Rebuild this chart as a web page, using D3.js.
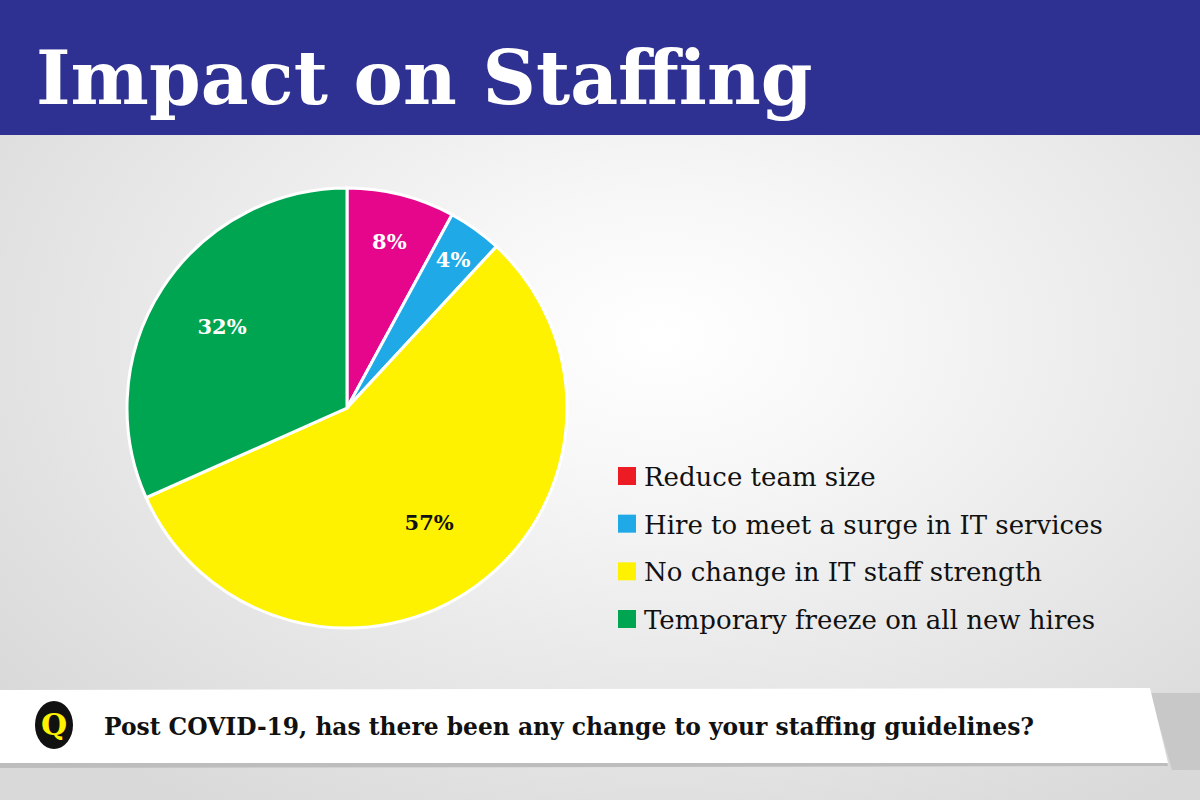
<!DOCTYPE html>
<html><head><meta charset="utf-8">
<script src="https://cdn.jsdelivr.net/npm/d3@7"></script>
<style>body{margin:0;overflow:hidden}</style>
</head><body>
<script>
var categories = ["Reduce team size", "Hire to meet a surge in IT services", "No change in IT staff strength", "Temporary freeze on all new hires"];
var values = [8, 4, 57, 32];
var sliceColors = ["#e5068c", "#1fa9e6", "#fff200", "#00a551"];
var legendColors = ["#ed1c24", "#1fa9e6", "#fff200", "#00a551"];
var labelColors = ["#fff", "#fff", "#111", "#fff"];
var labelRadius = [172, 182, 141, 149];

var W = 1200, H = 800, serif = "'DejaVu Serif', 'Liberation Serif', serif";
var svg = d3.select("body").append("svg").attr("width", W).attr("height", H);
var defs = svg.append("defs");
var g1 = defs.append("radialGradient").attr("id", "bg").attr("cx", "0.55").attr("cy", "0.42").attr("r", "0.7");
g1.append("stop").attr("offset", "0").attr("stop-color", "#ffffff");
g1.append("stop").attr("offset", "0.25").attr("stop-color", "#f7f7f7");
g1.append("stop").attr("offset", "1").attr("stop-color", "#d9d9da");
svg.append("rect").attr("width", W).attr("height", H).attr("fill", "url(#bg)");

// header
svg.append("rect").attr("width", W).attr("height", 135).attr("fill", "#2e3192");
svg.append("text").attr("x", 36).attr("y", 104).attr("fill", "#fff")
  .attr("font-family", serif).attr("font-weight", "bold").attr("font-size", 74)
  .text("Impact on Staffing");

// pie
var cx = 347, cy = 408, R = 220;
var pie = d3.pie().sort(null).value(function(d) { return d; });
var arcs = pie(values);
var arc = d3.arc().innerRadius(0).outerRadius(R);
var gp = svg.append("g").attr("transform", "translate(" + cx + "," + cy + ")");
gp.selectAll("path").data(arcs).enter().append("path")
  .attr("d", arc).attr("fill", function(d, i) { return sliceColors[i]; })
  .attr("stroke", "#fff").attr("stroke-width", 3);
gp.selectAll("text").data(arcs).enter().append("text")
  .attr("transform", function(d, i) {
    var a = d3.arc().innerRadius(labelRadius[i]).outerRadius(labelRadius[i]);
    return "translate(" + a.centroid(d) + ")";
  })
  .attr("text-anchor", "middle").attr("dy", "0.35em")
  .attr("font-family", serif).attr("font-weight", "bold").attr("font-size", 21)
  .attr("fill", function(d, i) { return labelColors[i]; })
  .text(function(d) { return d.data + "%"; });

// legend
var y = d3.scalePoint().domain(categories).range([477, 620]);
var lg = svg.append("g");
categories.forEach(function(c, i) {
  lg.append("rect").attr("x", 618).attr("y", y(c) - 10).attr("width", 18).attr("height", 18).attr("fill", legendColors[i]);
  lg.append("text").attr("x", 644).attr("y", y(c)).attr("dy", "0.35em")
    .attr("font-family", serif).attr("font-size", 26).attr("fill", "#111").text(c);
});

// question bar
svg.append("polygon").attr("points", "1150,693 1200,693 1200,770 1172,770").attr("fill", "#c8c8c8");
svg.append("polygon").attr("points", "0,692 1150,688 1168,763 0,765").attr("fill", "#bdbdbd").attr("transform", "translate(0,3)");
svg.append("polygon").attr("points", "0,690 1150,688 1168,763 0,763").attr("fill", "#fff");
svg.append("ellipse").attr("cx", 54).attr("cy", 725).attr("rx", 19).attr("ry", 24).attr("fill", "#111");
svg.append("text").attr("x", 54).attr("y", 735).attr("text-anchor", "middle").attr("fill", "#fff200")
  .attr("font-family", serif).attr("font-weight", "bold").attr("font-size", 30).text("Q");
svg.append("text").attr("x", 104).attr("y", 735).attr("fill", "#111")
  .attr("font-family", serif).attr("font-weight", "bold").attr("font-size", 24)
  .attr("textLength", 930).attr("lengthAdjust", "spacingAndGlyphs")
  .text("Post COVID-19, has there been any change to your staffing guidelines?");
</script>
</body></html>
